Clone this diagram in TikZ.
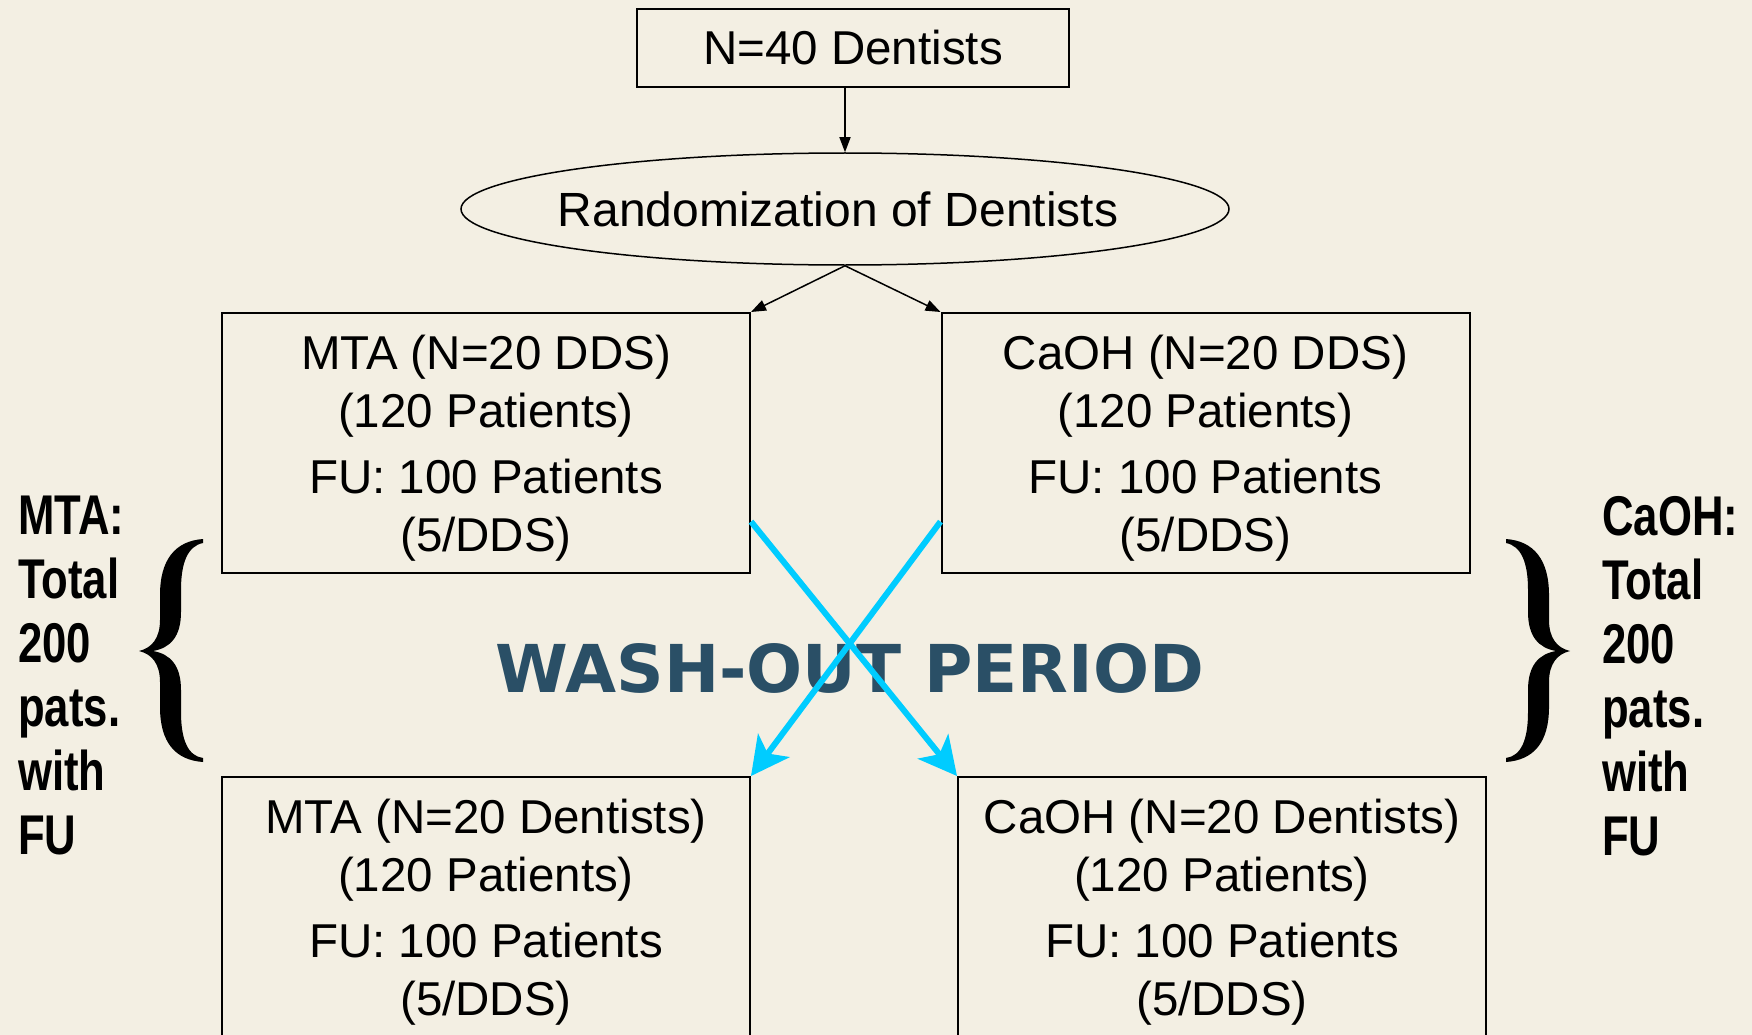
\documentclass[tikz,border=0pt]{standalone}
\usepackage{fontspec}
\setmainfont{Liberation Sans}
\newfontfamily\sidefont[FakeStretch=0.78]{Liberation Sans}
\newfontfamily\washfont{DejaVu Sans}
\usetikzlibrary{shapes.geometric,arrows.meta,calc}
\definecolor{bgc}{RGB}{243,239,227}
\definecolor{washc}{RGB}{42,79,102}
\definecolor{xblue}{RGB}{0,204,255}
\newcommand{\firststrut}{\rule{0pt}{44pt}}
\tikzset{
  boxtxt/.style={font=\fontsize{47.5}{58}\selectfont},
  flowbox/.style={draw, line width=2pt, rectangle, inner sep=0pt, minimum width=528pt, minimum height=260pt, align=center, boxtxt},
  blackarrow/.style={line width=1.5pt, -{Triangle[length=15pt,width=11pt]}},
  bluearrow/.style={xblue, line width=6pt, -{Stealth[length=38pt,width=39pt,inset=10pt]}},
  sidetext/.style={font=\sidefont\bfseries\fontsize{56}{64}\selectfont, align=left, inner sep=0pt, anchor=north west},
  bracefill/.style={fill=black}
}
\begin{document}
\begin{tikzpicture}[x=1pt,y=-1pt]
\fill[bgc] (0,0) rectangle (1752,1035);
\useasboundingbox (0,0) rectangle (1752,1035);
\clip (0,0) rectangle (1752,1035);

\node[draw, line width=2pt, inner sep=0pt, minimum width=432pt, minimum height=78pt, boxtxt] (top) at (853,48) {N=40 Dentists};
\node[draw, line width=1.5pt, ellipse, inner sep=0pt, minimum width=768pt, minimum height=112pt, font=\fontsize{48}{58}\selectfont] (rand) at (845,209) {\makebox[0pt]{Randomization of Dentists\hspace{14pt}}};

\node[flowbox] (mta1) at (486,443) {\firststrut MTA (N=20 DDS)\\(120 Patients)\\[8pt]FU: 100 Patients\\(5/DDS)};
\node[flowbox] (caoh1) at (1205.5,443) {\firststrut CaOH (N=20 DDS)\\(120 Patients)\\[8pt]FU: 100 Patients\\(5/DDS)};
\node[flowbox] (mta2) at (486,907) {\firststrut MTA (N=20 Dentists)\\(120 Patients)\\[8pt]FU: 100 Patients\\(5/DDS)};
\node[flowbox] (caoh2) at (1222,907) {\firststrut CaOH (N=20 Dentists)\\(120 Patients)\\[8pt]FU: 100 Patients\\(5/DDS)};

\draw[blackarrow] (top.south -| rand.north) -- (rand.north);
\draw[blackarrow] (rand.south) -- (mta1.north east);
\draw[blackarrow] (rand.south) -- (caoh1.north west);

\node[font=\washfont\bfseries\fontsize{66}{66}\selectfont, text=washc, inner sep=0pt] (wash) at (850,668) {WASH-OUT PERIOD};

\draw[bluearrow] ($(mta1.north east)!0.8!(mta1.south east)$) -- (caoh2.north west);
\draw[bluearrow] ($(caoh1.north west)!0.8!(caoh1.south west)$) -- (mta2.north east);

% left brace
\fill[bracefill] (203,539) .. controls (175,541) and (160,560) .. (160,595)
  -- (160,620)
  .. controls (160,638) and (152,648) .. (139,651)
  .. controls (152,654) and (160,664) .. (160,682)
  -- (160,707)
  .. controls (160,742) and (175,760) .. (203,762)
  -- (203,758)
  .. controls (188,756) and (181,740) .. (181,712)
  -- (181,690)
  .. controls (181,665) and (170,654) .. (153,651)
  .. controls (170,648) and (181,637) .. (181,612)
  -- (181,590)
  .. controls (181,562) and (188,546) .. (203,543) -- cycle;
% right brace (mirror)
\begin{scope}[xshift=1709pt, xscale=-1]
\fill[bracefill] (203,539) .. controls (175,541) and (160,560) .. (160,595)
  -- (160,620)
  .. controls (160,638) and (152,648) .. (139,651)
  .. controls (152,654) and (160,664) .. (160,682)
  -- (160,707)
  .. controls (160,742) and (175,760) .. (203,762)
  -- (203,758)
  .. controls (188,756) and (181,740) .. (181,712)
  -- (181,690)
  .. controls (181,665) and (170,654) .. (153,651)
  .. controls (170,648) and (181,637) .. (181,612)
  -- (181,590)
  .. controls (181,562) and (188,546) .. (203,543) -- cycle;
\end{scope}

\node[sidetext] (ltext) at (18,496) {MTA:\\Total\\200\\pats.\\with\\FU};
\node[sidetext] (rtext) at (1602,496) {CaOH:\\Total\\200\\pats.\\with\\FU};
\end{tikzpicture}
\end{document}
